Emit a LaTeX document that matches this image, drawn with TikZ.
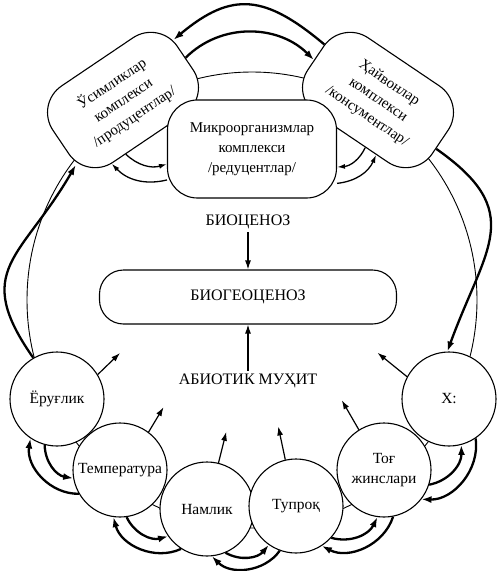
\documentclass[tikz,border=0pt]{standalone}
\usepackage{fontspec}
\setmainfont{Liberation Serif}
\usetikzlibrary{arrows.meta,positioning}

\begin{document}
\begin{tikzpicture}[x=1pt, y=1pt,
  complex/.style={rectangle, draw, line width=1.1pt, fill=white, rounded corners=32pt, minimum width=150pt, minimum height=92pt, align=center, inner sep=2pt, font=\fontsize{15}{20}\selectfont},
  factor/.style={circle, draw, line width=1.1pt, fill=white, minimum size=94pt, inner sep=0pt, align=center, font=\fontsize{15.5}{20}\selectfont},
  caps/.style={inner sep=3pt, font=\fontsize{16}{18}\selectfont},
  link/.style={line width=2.3pt, -{Latex[length=10pt,width=7pt]}},
  fwd/.style={link, bend right=40},
  back/.style={link, bend left=50},
  minor/.style={line width=1.3pt, -{Latex[length=8pt,width=5pt]}},
  ray/.style={line width=1.2pt, -{Latex[length=9pt,width=6pt]}}
]
  \useasboundingbox (0,0) rectangle (496,-571);
  % Ring
  \draw[line width=0.9pt] (252,-300) ellipse [x radius=225, y radius=228];
  % Biotic complexes
  \node[complex, rotate=34] (prod) at (123,-100) {Ўсимликлар\\комплекси\\/продуцентлар/};
  \node[complex, rotate=-34] (cons) at (378,-100) {Ҳайвонлар\\комплекси\\/консументлар/};
  \node[complex, rounded corners=30pt, minimum width=169pt, minimum height=98pt] (redu) at (252,-149) {Микроорганизмлар\\комплекси\\/редуцентлар/};
  % Centre
  \node[caps] (bioc) at (248,-222) {БИОЦЕНОЗ};
  \node[rectangle, draw, line width=1.1pt, rounded corners=24pt, minimum width=297pt, minimum height=54pt, caps] (biogeo) at (248,-297) {БИОГЕОЦЕНОЗ};
  \node[caps] (abio) at (248,-381) {АБИОТИК МУҲИТ};
  \draw[ray] (bioc) -- (biogeo);
  \draw[ray] (abio) -- (biogeo);
  % Abiotic factors
  \node[factor] (light) at (57,-399) {Ёруғлик};
  \node[factor] (temp) at (120,-470) {Температура};
  \node[factor] (humid) at (207,-509) {Намлик};
  \node[factor] (soil) at (296,-506) {Тупроқ};
  \node[factor] (rock) at (384,-470) {Тоғ\\жинслари};
  \node[factor] (air) at (449,-399) {Х:};
  % Factors to the environment
  \draw[ray] (light.31) -- ++(44:31);
  \draw[ray] (temp.53) -- ++(59:29);
  \draw[ray] (humid.76) -- ++(76:32);
  \draw[ray] (soil.103) -- ++(102:34);
  \draw[ray] (rock.122) -- ++(120:34);
  \draw[ray] (air.152) -- ++(141:38);
  % Links between factors
  \draw[fwd] (light.255) to (temp.190);
  \draw[back] (temp.210) to (light.236);
  \draw[fwd] (temp.278) to (humid.215);
  \draw[back] (humid.237) to (temp.262);
  \draw[fwd] (humid.293) to (soil.235);
  \draw[back] (soil.250) to (humid.276);
  \draw[fwd] (soil.-42) to (rock.262);
  \draw[back] (rock.281) to (soil.-57);
  \draw[fwd] (rock.-18) to (air.-75);
  \draw[back] (air.-56) to (rock.-38);
  % Links between complexes
  \draw[link] (cons.168) to[out=140, in=40, looseness=1.3] (prod.16);
  \draw[link] (prod.0) to[out=45, in=135] (cons.182);
  \draw[minor] (prod.239) to[bend right=30] (redu.190);
  \draw[minor] (redu.200) to[bend left=30] (prod.226);
  \draw[minor] (cons.-71) to[bend left=30] (redu.-12);
  \draw[minor] (redu.-22) to[bend right=30] (cons.-58);
  % Links to the ring
  \draw[link] (light.120) to[out=125, in=240, looseness=1.4] (prod.200);
  \draw[link] (cons.-6) to[out=-35, in=70, looseness=1.4] (air.92);
\end{tikzpicture}
\end{document}
